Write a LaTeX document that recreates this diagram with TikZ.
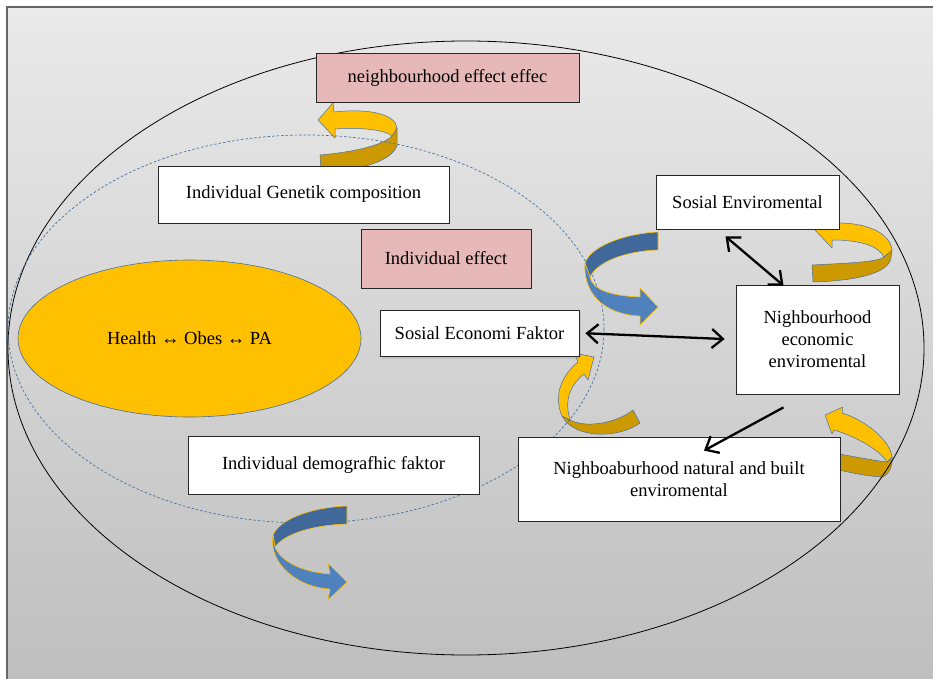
\documentclass[tikz,border=0pt]{standalone}
\usepackage{fontspec}
\setmainfont{Liberation Serif}
\usetikzlibrary{positioning, arrows.meta, shapes.geometric, shadows}

\definecolor{bgtop}{HTML}{EAEAEA}
\definecolor{bgbottom}{HTML}{BDBDBD}
\definecolor{pinkfill}{HTML}{E6B9B8}
\definecolor{goldlight}{HTML}{FFC000}
\definecolor{golddark}{HTML}{CC9A00}
\definecolor{bluelight}{HTML}{4F81BD}
\definecolor{bluedark}{HTML}{41689B}
\definecolor{edgeblue}{HTML}{4A6FA0}

\begin{document}
\begin{tikzpicture}[
    x=1pt, y=-1pt,
    % Styling
    base font/.style={font=\fontsize{18.5}{22}\selectfont},
    plain box/.style={
        draw=black!85,
        line width=0.8pt,
        inner sep=0pt,
        align=center,
        base font
    },
    white box/.style={plain box, fill=white},
    pink box/.style={plain box, fill=pinkfill},
    % Ribbon arrows (front face and folded back face)
    gold front/.style={fill=goldlight, draw=edgeblue, line width=0.5pt, line join=round},
    gold back/.style={fill=golddark, draw=edgeblue, line width=0.5pt, line join=round},
    blue front/.style={fill=bluelight, draw=goldlight, line width=0.6pt, line join=round},
    blue back/.style={fill=bluedark, draw=goldlight, line width=0.6pt, line join=round},
    % Links between the neighbourhood boxes
    link arrow/.style={
        >={Straight Barb[length=11pt,width=19pt]},
        line width=2.3pt,
        black
    },
    dashed ring/.style={draw=edgeblue, line width=0.7pt, dash pattern=on 2.5pt off 2pt}
]

% --- Canvas ---
\path[use as bounding box] (0,0) rectangle (933,679);
\clip (0,0) rectangle (933,679);
\shade[top color=bgtop, bottom color=bgbottom] (7,7) rectangle (960,700);
\draw[draw=black!60, line width=1.5pt] (7,7) rectangle (960,700);

% --- Ribbon arrows ---
% top, round to the neighbourhood effect
\draw[gold back] (320,155) .. controls (355,152) and (383,145) .. (392,136) -- (397,128)
    -- (397,146) .. controls (390,163) and (355,171) .. (321,172) -- cycle;
\draw[gold front] (318,120) -- (333,103) -- (334,112) .. controls (368,108) and (396,114) .. (397,128)
    -- (392,136) .. controls (385,130) and (362,127) .. (335,129) -- (335,138) -- cycle;

% right of the social box
\draw[gold back] (812,265) .. controls (850,263) and (878,262) .. (884,257) -- (892,250)
    -- (891,258) .. controls (888,275) and (850,281) .. (813,282) -- cycle;
\draw[gold front] (815,230) -- (833,215) -- (833,223) .. controls (865,222) and (890,232) .. (892,250)
    -- (884,257) .. controls (878,245) and (858,240) .. (832,240) -- (832,248) -- cycle;

% blue, towards the neighbourhood
\draw[blue back] (658,232) .. controls (620,234) and (590,248) .. (585,263) -- (590,277)
    .. controls (597,262) and (625,251) .. (658,250) -- cycle;
\draw[blue front] (585,263) .. controls (583,300) and (612,315) .. (640,316) -- (640,325) -- (658,307)
    -- (640,288) -- (640,297) .. controls (612,296) and (592,290) .. (590,277) -- cycle;

% under the socio-economic box
\draw[gold back] (562,416) .. controls (575,440) and (620,438) .. (640,423) -- (633,410)
    .. controls (615,424) and (585,428) .. (570,420) -- cycle;
\draw[gold front] (594,357) -- (574,353) -- (578,362) .. controls (562,375) and (553,395) .. (562,416)
    -- (570,420) .. controls (564,400) and (570,385) .. (584,374) -- (588,380) -- cycle;

% right of the built environment
\draw[gold back] (812,449) .. controls (840,454) and (870,460) .. (887,462) -- (892,457)
    .. controls (893,466) and (889,474) .. (883,477) .. controls (860,476) and (830,468) .. (807,462) -- cycle;
\draw[gold front] (825,415) -- (843,407) -- (842,413) .. controls (865,420) and (890,440) .. (892,457)
    -- (887,462) .. controls (880,450) and (855,436) .. (834,430) -- (832,434) -- cycle;

% bottom, blue
\draw[blue back] (347,506) .. controls (315,507) and (280,518) .. (273,535) -- (275,547)
    .. controls (285,533) and (315,525) .. (347,524) -- cycle;
\draw[blue front] (273,535) .. controls (268,565) and (300,588) .. (330,589) -- (328,600) -- (347,582)
    -- (328,563) -- (330,574) .. controls (300,572) and (280,560) .. (275,547) -- cycle;

% --- Rings ---
\draw[black, line width=0.8pt] (466,348) ellipse [x radius=458, y radius=307];
\draw[dashed ring] (306,329) ellipse [x radius=298, y radius=194];

% --- Core ---
\node[ellipse, fill=goldlight, draw=edgeblue, line width=0.6pt, minimum width=343pt,
      minimum height=157pt, base font] (health) at (189.5,338.5) {Health ↔ Obes ↔ PA};

% --- Boxes ---
\node[pink box, minimum width=263pt, minimum height=49pt] (nbeffect) at (447.5,77.5) {neighbourhood effect effec};
\node[white box, minimum width=291pt, minimum height=57pt] (genetic) at (303.5,194.5) {Individual Genetik composition};
\node[pink box, minimum width=170pt, minimum height=59pt] (indeffect) at (446,258.5) {Individual effect};
\node[white box, minimum width=199pt, minimum height=46pt,
      drop shadow={shadow xshift=2pt, shadow yshift=-3pt, opacity=0.2}] (econ) at (479.5,333) {Sosial Economi Faktor};
\node[white box, minimum width=291pt, minimum height=58pt] (demog) at (333.5,465) {Individual demografhic faktor};
\node[white box, minimum width=183pt, minimum height=54pt] (socenv) at (747.5,202) {Sosial Enviromental};
\node[white box, minimum width=163pt, minimum height=109pt] (nbecon) at (817.5,339.5) {Nighbourhood\\economic\\enviromental};
\node[white box, minimum width=322pt, minimum height=84pt] (natural) at (679,479) {Nighboaburhood natural and built\\enviromental};

% --- Links ---
\draw[link arrow, <->, shorten <=6pt, shorten >=11pt] (econ.east) -- (nbecon.west);
\draw[link arrow, <->] ([xshift=-22pt,yshift=-7pt]socenv.south) -- ([xshift=-34pt,yshift=-1pt]nbecon.north);
\draw[link arrow, ->] ([xshift=-34pt,yshift=-13pt]nbecon.south) -- ([xshift=25pt,yshift=-14pt]natural.north);

\end{tikzpicture}
\end{document}
